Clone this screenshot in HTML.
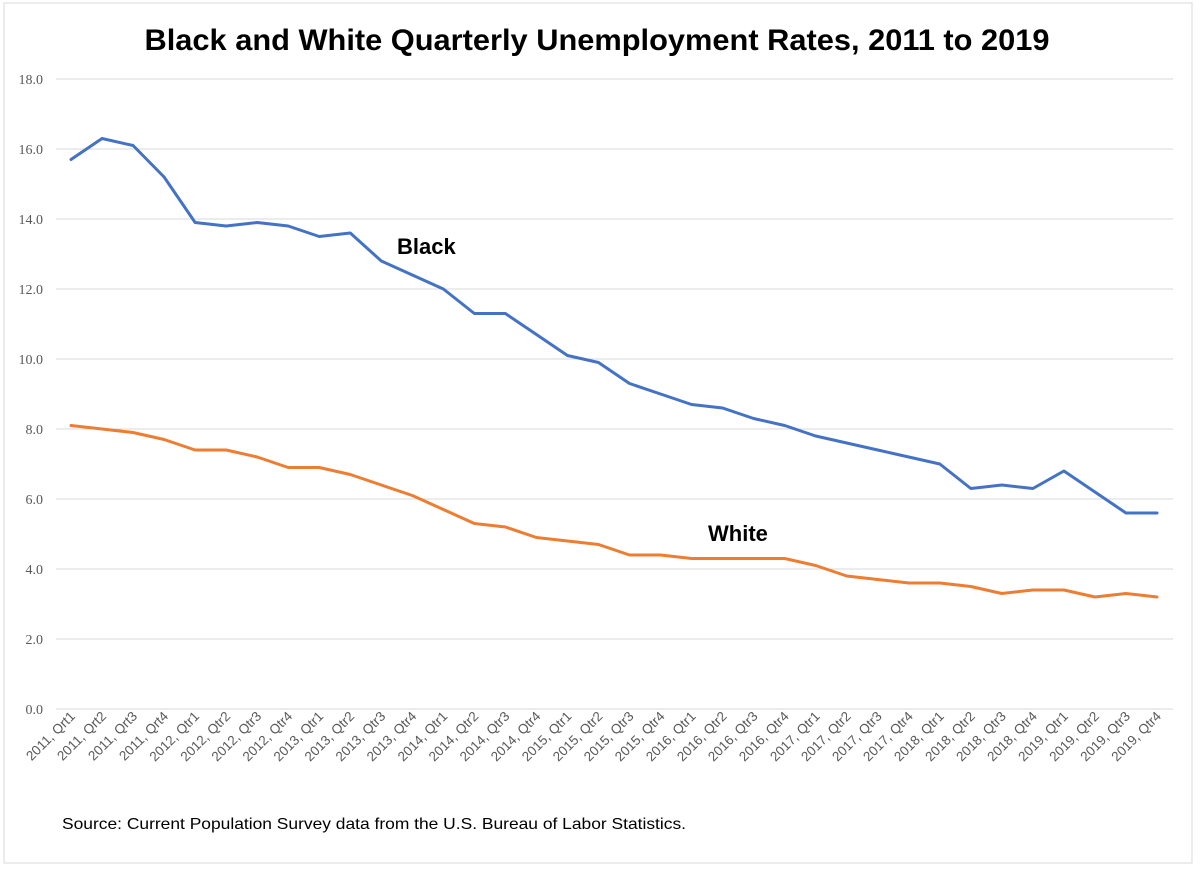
<!DOCTYPE html>
<html><head><meta charset="utf-8"><style>
body{margin:0;background:#fff;}
svg{display:block;font-family:"Liberation Sans",sans-serif;}
</style></head><body>
<svg id="chart" width="1200" height="869">
<rect x="4" y="3" width="1188" height="860" fill="#fff" stroke="#d9d9d9"/>
<text x="597" y="50" text-anchor="middle" font-size="30" font-weight="bold" fill="#000" textLength="905" lengthAdjust="spacingAndGlyphs">Black and White Quarterly Unemployment Rates, 2011 to 2019</text>
<g id="grid"></g><g id="xlabels"></g><g id="lines"></g>
<text x="397" y="254" font-size="22" font-weight="bold">Black</text>
<text x="708" y="541" font-size="22" font-weight="bold">White</text>
<text x="62" y="829" font-size="16" fill="#000" textLength="624" lengthAdjust="spacingAndGlyphs">Source: Current Population Survey data from the U.S. Bureau of Labor Statistics.</text>
</svg>
<script>
const years=[2011,2012,2013,2014,2015,2016,2017,2018,2019];
const blackRates=[15.7,16.3,16.1,15.2,13.9,13.8,13.9,13.8,13.5,13.6,12.8,12.4,12.0,11.3,11.3,10.7,10.1,9.9,9.3,9.0,8.7,8.6,8.3,8.1,7.8,7.6,7.4,7.2,7.0,6.3,6.4,6.3,6.8,6.2,5.6,5.6];
const whiteRates=[8.1,8.0,7.9,7.7,7.4,7.4,7.2,6.9,6.9,6.7,6.4,6.1,5.7,5.3,5.2,4.9,4.8,4.7,4.4,4.4,4.3,4.3,4.3,4.3,4.1,3.8,3.7,3.6,3.6,3.5,3.3,3.4,3.4,3.2,3.3,3.2];
const yTicks=[0,2,4,6,8,10,12,14,16,18];
const categories=[];
years.forEach(y=>{for(let q=1;q<=4;q++){categories.push(y+", "+(y===2011?"Qrt":"Qtr")+q);}});
const NS="http://www.w3.org/2000/svg";
const x0=71,x1=1157,yb=709,yt=79;
const xs=i=>x0+i*(x1-x0)/(categories.length-1);
const ys=v=>yb-(v/18)*(yb-yt);
const grid=document.getElementById('grid');
yTicks.forEach(t=>{
 const l=document.createElementNS(NS,'line');
 l.setAttribute('x1',56);l.setAttribute('x2',1173);l.setAttribute('y1',ys(t));l.setAttribute('y2',ys(t));
 l.setAttribute('stroke','#d9d9d9');l.setAttribute('stroke-width','1');
 
 
 grid.appendChild(l);
 const tx=document.createElementNS(NS,'text');
 tx.setAttribute('x',43);tx.setAttribute('y',ys(t)+5);tx.setAttribute('text-anchor','end');
 tx.setAttribute('font-size','14');tx.setAttribute('fill','#595959');
 tx.setAttribute('font-family','Liberation Serif, serif');
 tx.textContent=t.toFixed(1);
 
 
 grid.appendChild(tx);
});
const xl=document.getElementById('xlabels');
categories.forEach((c,i)=>{
 const tx=document.createElementNS(NS,'text');
 const x=xs(i)+5,y=717;
 tx.setAttribute('x',x);tx.setAttribute('y',y);tx.setAttribute('text-anchor','end');
 tx.setAttribute('transform','rotate(-45 '+x+' '+y+')');
 tx.setAttribute('font-size','13.5');tx.setAttribute('fill','#595959');
 tx.textContent=c;
 
 
 xl.appendChild(tx);
});
const lines=document.getElementById('lines');
function drawLine(data,color,name){
 const p=document.createElementNS(NS,'polyline');
 p.setAttribute('points',data.map((v,i)=>xs(i)+','+ys(v)).join(' '));
 p.setAttribute('fill','none');p.setAttribute('stroke',color);p.setAttribute('stroke-width','3');
 p.setAttribute('stroke-linejoin','round');p.setAttribute('stroke-linecap','round');
 
 
 lines.appendChild(p);
}
drawLine(blackRates,'#4472c4','black-rate-line');
drawLine(whiteRates,'#ed7d31','white-rate-line');
</script>
</body></html>
